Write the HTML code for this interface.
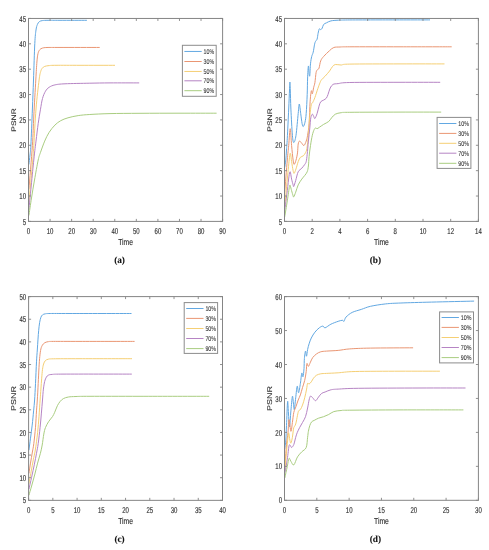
<!DOCTYPE html>
<html lang="en">
<head>
<meta charset="utf-8">
<title>PSNR versus Time</title>
<style>
html,body{margin:0;padding:0;background:#fff;}
body{width:489px;height:550px;overflow:hidden;}
svg{display:block;}
text{text-rendering:geometricPrecision;}
</style>
</head>
<body>
<svg width="489" height="550" viewBox="0 0 489 550">
<rect width="489" height="550" fill="#fff"/>
<g><path d="M28.90 164.50C29.08 162.92 29.67 158.25 30.00 155.00C30.33 151.75 30.50 152.67 30.90 145.00C31.30 137.33 31.97 119.83 32.40 109.00C32.83 98.17 33.10 90.92 33.50 80.00C33.90 69.08 34.38 51.83 34.80 43.50C35.22 35.17 35.57 33.17 36.00 30.00C36.43 26.83 36.85 25.88 37.40 24.50C37.95 23.12 38.48 22.35 39.30 21.70C40.12 21.05 40.85 20.83 42.30 20.60C43.75 20.37 45.05 20.35 48.00 20.30C50.95 20.25 53.52 20.30 60.00 20.30C66.48 20.30 82.42 20.30 86.90 20.30" fill="none" stroke="#62a8e2" stroke-width="1" stroke-linejoin="round" stroke-linecap="butt"/>
<path d="M28.90 189.30C29.48 182.00 31.58 157.72 32.40 145.50C33.22 133.28 33.23 126.92 33.80 116.00C34.37 105.08 35.28 89.00 35.80 80.00C36.32 71.00 36.53 66.40 36.90 62.00C37.27 57.60 37.53 55.63 38.00 53.60C38.47 51.57 38.97 50.72 39.70 49.80C40.43 48.88 41.18 48.48 42.40 48.10C43.62 47.72 44.07 47.61 47.00 47.50C49.93 47.39 51.22 47.46 60.00 47.45C68.78 47.44 93.08 47.45 99.70 47.45" fill="none" stroke="#ea9673" stroke-width="1" stroke-linejoin="round" stroke-linecap="butt"/>
<path d="M28.90 202.40C29.55 195.33 31.98 169.48 32.80 160.00C33.62 150.52 33.27 154.00 33.80 145.50C34.33 137.00 35.12 119.92 36.00 109.00C36.88 98.08 38.32 86.25 39.10 80.00C39.88 73.75 40.17 73.47 40.70 71.50C41.23 69.53 41.63 69.05 42.30 68.20C42.97 67.35 43.58 66.83 44.70 66.40C45.82 65.97 47.12 65.78 49.00 65.60C50.88 65.42 50.83 65.35 56.00 65.30C61.17 65.25 70.17 65.30 80.00 65.30C89.83 65.30 109.17 65.30 115.00 65.30" fill="none" stroke="#f5cf74" stroke-width="1" stroke-linejoin="round" stroke-linecap="butt"/>
<path d="M28.90 209.60C29.72 201.33 32.62 171.42 33.80 160.00C34.98 148.58 35.27 147.17 36.00 141.10C36.73 135.03 37.47 128.82 38.20 123.60C38.93 118.38 39.68 113.98 40.40 109.80C41.12 105.62 41.65 101.60 42.50 98.50C43.35 95.40 44.40 93.07 45.50 91.20C46.60 89.33 47.53 88.35 49.10 87.30C50.67 86.25 52.25 85.48 54.90 84.90C57.55 84.32 59.18 84.08 65.00 83.80C70.82 83.52 82.30 83.35 89.80 83.20C97.30 83.05 101.77 82.95 110.00 82.90C118.23 82.85 134.33 82.90 139.20 82.90" fill="none" stroke="#b684c4" stroke-width="1" stroke-linejoin="round" stroke-linecap="butt"/>
<path d="M28.90 215.50C29.33 212.58 30.57 203.92 31.50 198.00C32.43 192.08 33.38 186.33 34.50 180.00C35.62 173.67 37.22 164.55 38.20 160.00C39.18 155.45 39.32 155.85 40.40 152.70C41.48 149.55 43.25 144.48 44.70 141.10C46.15 137.72 47.40 135.07 49.10 132.40C50.80 129.73 52.97 127.05 54.90 125.10C56.83 123.15 58.52 121.92 60.70 120.70C62.88 119.48 65.08 118.65 68.00 117.80C70.92 116.95 74.57 116.15 78.20 115.60C81.83 115.05 84.50 114.83 89.80 114.50C95.10 114.17 101.63 113.80 110.00 113.60C118.37 113.40 128.33 113.37 140.00 113.30C151.67 113.23 167.23 113.22 180.00 113.20C192.77 113.18 210.50 113.20 216.60 113.20" fill="none" stroke="#a9cd80" stroke-width="1" stroke-linejoin="round" stroke-linecap="butt"/>
<rect x="28.50" y="18.45" width="194.10" height="202.95" fill="none" stroke="#858585" stroke-width="1"/>
<text transform="translate(28.50 233.60) scale(0.720 1)" font-family='"Liberation Sans", Arial, sans-serif' font-size="8.40" font-weight="normal" text-anchor="middle" fill="#303030" stroke="#303030" stroke-width="0.15">0</text>
<text transform="translate(50.07 233.60) scale(0.720 1)" font-family='"Liberation Sans", Arial, sans-serif' font-size="8.40" font-weight="normal" text-anchor="middle" fill="#303030" stroke="#303030" stroke-width="0.15">10</text>
<text transform="translate(71.63 233.60) scale(0.720 1)" font-family='"Liberation Sans", Arial, sans-serif' font-size="8.40" font-weight="normal" text-anchor="middle" fill="#303030" stroke="#303030" stroke-width="0.15">20</text>
<text transform="translate(93.20 233.60) scale(0.720 1)" font-family='"Liberation Sans", Arial, sans-serif' font-size="8.40" font-weight="normal" text-anchor="middle" fill="#303030" stroke="#303030" stroke-width="0.15">30</text>
<text transform="translate(114.77 233.60) scale(0.720 1)" font-family='"Liberation Sans", Arial, sans-serif' font-size="8.40" font-weight="normal" text-anchor="middle" fill="#303030" stroke="#303030" stroke-width="0.15">40</text>
<text transform="translate(136.33 233.60) scale(0.720 1)" font-family='"Liberation Sans", Arial, sans-serif' font-size="8.40" font-weight="normal" text-anchor="middle" fill="#303030" stroke="#303030" stroke-width="0.15">50</text>
<text transform="translate(157.90 233.60) scale(0.720 1)" font-family='"Liberation Sans", Arial, sans-serif' font-size="8.40" font-weight="normal" text-anchor="middle" fill="#303030" stroke="#303030" stroke-width="0.15">60</text>
<text transform="translate(179.47 233.60) scale(0.720 1)" font-family='"Liberation Sans", Arial, sans-serif' font-size="8.40" font-weight="normal" text-anchor="middle" fill="#303030" stroke="#303030" stroke-width="0.15">70</text>
<text transform="translate(201.03 233.60) scale(0.720 1)" font-family='"Liberation Sans", Arial, sans-serif' font-size="8.40" font-weight="normal" text-anchor="middle" fill="#303030" stroke="#303030" stroke-width="0.15">80</text>
<text transform="translate(222.60 233.60) scale(0.720 1)" font-family='"Liberation Sans", Arial, sans-serif' font-size="8.40" font-weight="normal" text-anchor="middle" fill="#303030" stroke="#303030" stroke-width="0.15">90</text>
<text transform="translate(26.00 224.50) scale(0.720 1)" font-family='"Liberation Sans", Arial, sans-serif' font-size="8.40" font-weight="normal" text-anchor="end" fill="#303030" stroke="#303030" stroke-width="0.15">5</text>
<text transform="translate(26.00 199.13) scale(0.720 1)" font-family='"Liberation Sans", Arial, sans-serif' font-size="8.40" font-weight="normal" text-anchor="end" fill="#303030" stroke="#303030" stroke-width="0.15">10</text>
<text transform="translate(26.00 173.76) scale(0.720 1)" font-family='"Liberation Sans", Arial, sans-serif' font-size="8.40" font-weight="normal" text-anchor="end" fill="#303030" stroke="#303030" stroke-width="0.15">15</text>
<text transform="translate(26.00 148.39) scale(0.720 1)" font-family='"Liberation Sans", Arial, sans-serif' font-size="8.40" font-weight="normal" text-anchor="end" fill="#303030" stroke="#303030" stroke-width="0.15">20</text>
<text transform="translate(26.00 123.02) scale(0.720 1)" font-family='"Liberation Sans", Arial, sans-serif' font-size="8.40" font-weight="normal" text-anchor="end" fill="#303030" stroke="#303030" stroke-width="0.15">25</text>
<text transform="translate(26.00 97.66) scale(0.720 1)" font-family='"Liberation Sans", Arial, sans-serif' font-size="8.40" font-weight="normal" text-anchor="end" fill="#303030" stroke="#303030" stroke-width="0.15">30</text>
<text transform="translate(26.00 72.29) scale(0.720 1)" font-family='"Liberation Sans", Arial, sans-serif' font-size="8.40" font-weight="normal" text-anchor="end" fill="#303030" stroke="#303030" stroke-width="0.15">35</text>
<text transform="translate(26.00 46.92) scale(0.720 1)" font-family='"Liberation Sans", Arial, sans-serif' font-size="8.40" font-weight="normal" text-anchor="end" fill="#303030" stroke="#303030" stroke-width="0.15">40</text>
<text transform="translate(26.00 21.55) scale(0.720 1)" font-family='"Liberation Sans", Arial, sans-serif' font-size="8.40" font-weight="normal" text-anchor="end" fill="#303030" stroke="#303030" stroke-width="0.15">45</text>
<path d="M28.50 221.40v-2.50M28.50 18.45v2.50M50.07 221.40v-2.50M50.07 18.45v2.50M71.63 221.40v-2.50M71.63 18.45v2.50M93.20 221.40v-2.50M93.20 18.45v2.50M114.77 221.40v-2.50M114.77 18.45v2.50M136.33 221.40v-2.50M136.33 18.45v2.50M157.90 221.40v-2.50M157.90 18.45v2.50M179.47 221.40v-2.50M179.47 18.45v2.50M201.03 221.40v-2.50M201.03 18.45v2.50M222.60 221.40v-2.50M222.60 18.45v2.50M28.50 221.40h2.50M222.60 221.40h-2.50M28.50 196.03h2.50M222.60 196.03h-2.50M28.50 170.66h2.50M222.60 170.66h-2.50M28.50 145.29h2.50M222.60 145.29h-2.50M28.50 119.92h2.50M222.60 119.92h-2.50M28.50 94.56h2.50M222.60 94.56h-2.50M28.50 69.19h2.50M222.60 69.19h-2.50M28.50 43.82h2.50M222.60 43.82h-2.50M28.50 18.45h2.50M222.60 18.45h-2.50" stroke="#858585" stroke-width="0.9" fill="none"/>
<text transform="translate(125.55 244.80) scale(0.770 1)" font-family='"Liberation Sans", Arial, sans-serif' font-size="8.80" font-weight="normal" text-anchor="middle" fill="#303030" stroke="#303030" stroke-width="0.15">Time</text>
<text transform="translate(16.30 119.92) scale(0.770 1) rotate(-90)" font-family='"Liberation Sans", Arial, sans-serif' font-size="8.50" font-weight="normal" text-anchor="middle" fill="#303030" stroke="#303030" stroke-width="0.15">PSNR</text>
<text transform="translate(119.55 263.40) scale(1.000 1)" font-family='"Liberation Serif", "Times New Roman", serif' font-size="9.30" font-weight="bold" text-anchor="middle" fill="#111" stroke="#111" stroke-width="0.10">(a)</text>
<rect x="182.40" y="45.30" width="33.80" height="51.00" fill="#fff" stroke="#8c8c8c" stroke-width="1"/>
<path d="M184.40 51.45H201.70" stroke="#62a8e2" stroke-width="1"/>
<text transform="translate(203.60 53.90) scale(0.770 1)" font-family='"Liberation Sans", Arial, sans-serif' font-size="6.90" font-weight="normal" text-anchor="start" fill="#303030" stroke="#303030" stroke-width="0.08">10%</text>
<path d="M184.40 61.50H201.70" stroke="#ea9673" stroke-width="1"/>
<text transform="translate(203.60 63.95) scale(0.770 1)" font-family='"Liberation Sans", Arial, sans-serif' font-size="6.90" font-weight="normal" text-anchor="start" fill="#303030" stroke="#303030" stroke-width="0.08">30%</text>
<path d="M184.40 71.45H201.70" stroke="#f5cf74" stroke-width="1"/>
<text transform="translate(203.60 73.90) scale(0.770 1)" font-family='"Liberation Sans", Arial, sans-serif' font-size="6.90" font-weight="normal" text-anchor="start" fill="#303030" stroke="#303030" stroke-width="0.08">50%</text>
<path d="M184.40 80.80H201.70" stroke="#b684c4" stroke-width="1"/>
<text transform="translate(203.60 83.25) scale(0.770 1)" font-family='"Liberation Sans", Arial, sans-serif' font-size="6.90" font-weight="normal" text-anchor="start" fill="#303030" stroke="#303030" stroke-width="0.08">70%</text>
<path d="M184.40 90.70H201.70" stroke="#a9cd80" stroke-width="1"/>
<text transform="translate(203.60 93.15) scale(0.770 1)" font-family='"Liberation Sans", Arial, sans-serif' font-size="6.90" font-weight="normal" text-anchor="start" fill="#303030" stroke="#303030" stroke-width="0.08">90%</text></g>
<g><path d="M284.70 167.50C284.88 166.25 285.50 162.92 285.80 160.00C286.10 157.08 286.25 153.63 286.50 150.00C286.75 146.37 286.93 145.03 287.30 138.20C287.67 131.37 288.33 117.03 288.70 109.00C289.07 100.97 289.30 94.50 289.50 90.00C289.70 85.50 289.77 82.00 289.90 82.00C290.03 82.00 290.13 85.48 290.30 90.00C290.47 94.52 290.55 101.55 290.90 109.10C291.25 116.65 291.92 129.73 292.40 135.30C292.88 140.87 293.20 142.50 293.80 142.50C294.40 142.50 295.27 140.13 296.00 135.30C296.73 130.47 297.65 118.72 298.20 113.50C298.75 108.28 298.88 104.00 299.30 104.00C299.72 104.00 300.23 110.23 300.70 113.50C301.17 116.77 301.67 121.43 302.10 123.60C302.53 125.77 302.82 126.73 303.30 126.50C303.78 126.27 304.52 124.37 305.00 122.20C305.48 120.03 305.83 118.12 306.20 113.50C306.57 108.88 306.97 100.42 307.20 94.50C307.43 88.58 307.40 82.75 307.60 78.00C307.80 73.25 308.15 66.67 308.40 66.00C308.65 65.33 308.87 72.42 309.10 74.00C309.33 75.58 309.57 77.20 309.80 75.50C310.03 73.80 310.18 66.97 310.50 63.80C310.82 60.63 311.25 58.43 311.70 56.50C312.15 54.57 312.72 54.25 313.20 52.20C313.68 50.15 314.20 46.02 314.60 44.20C315.00 42.38 315.18 42.15 315.60 41.30C316.02 40.45 316.68 40.43 317.10 39.10C317.52 37.77 317.73 35.00 318.10 33.30C318.47 31.60 318.87 29.52 319.30 28.90C319.73 28.28 320.22 29.72 320.70 29.60C321.18 29.48 321.72 29.05 322.20 28.20C322.68 27.35 322.88 25.40 323.60 24.50C324.32 23.60 325.28 23.40 326.50 22.80C327.72 22.20 328.95 21.33 330.90 20.90C332.85 20.47 335.05 20.36 338.20 20.20C341.35 20.04 342.83 20.00 349.80 19.95C356.77 19.90 366.63 19.91 380.00 19.90C393.37 19.89 421.67 19.90 430.00 19.90" fill="none" stroke="#62a8e2" stroke-width="1" stroke-linejoin="round" stroke-linecap="butt"/>
<path d="M284.70 192.20C285.13 186.83 286.63 167.78 287.30 160.00C287.97 152.22 288.22 150.72 288.70 145.50C289.18 140.28 289.72 128.70 290.20 128.70C290.68 128.70 291.12 140.28 291.60 145.50C292.08 150.72 292.68 156.83 293.10 160.00C293.52 163.17 293.62 164.47 294.10 164.50C294.58 164.53 295.43 162.13 296.00 160.20C296.57 158.27 297.13 155.60 297.50 152.90C297.87 150.20 297.85 145.97 298.20 144.00C298.55 142.03 299.00 141.22 299.60 141.10C300.20 140.98 301.07 142.57 301.80 143.30C302.53 144.03 303.27 145.87 304.00 145.50C304.73 145.13 305.60 142.80 306.20 141.10C306.80 139.40 307.12 138.22 307.60 135.30C308.08 132.38 308.68 129.18 309.10 123.60C309.52 118.02 309.73 107.25 310.10 101.80C310.47 96.35 310.93 92.23 311.30 90.90C311.67 89.57 311.90 94.40 312.30 93.80C312.70 93.20 313.27 89.15 313.70 87.30C314.13 85.45 314.50 85.17 314.90 82.70C315.30 80.23 315.67 74.68 316.10 72.50C316.53 70.32 317.02 70.32 317.50 69.60C317.98 68.88 318.47 69.65 319.00 68.20C319.53 66.75 319.93 62.85 320.70 60.90C321.47 58.95 322.13 58.20 323.60 56.50C325.07 54.80 327.80 52.20 329.50 50.70C331.20 49.20 332.05 48.12 333.80 47.50C335.55 46.88 337.33 47.12 340.00 47.00C342.67 46.88 339.80 46.83 349.80 46.80C359.80 46.77 383.02 46.80 400.00 46.80C416.98 46.80 443.08 46.80 451.70 46.80" fill="none" stroke="#ea9673" stroke-width="1" stroke-linejoin="round" stroke-linecap="butt"/>
<path d="M284.70 206.70C285.13 202.08 286.50 187.23 287.30 179.00C288.10 170.77 288.97 161.53 289.50 157.30C290.03 153.07 290.15 152.88 290.50 153.60C290.85 154.32 291.17 158.80 291.60 161.60C292.03 164.40 292.68 168.45 293.10 170.40C293.52 172.35 293.62 173.55 294.10 173.30C294.58 173.05 295.32 170.85 296.00 168.90C296.68 166.95 297.47 163.53 298.20 161.60C298.93 159.67 299.55 158.27 300.40 157.30C301.25 156.33 302.45 156.57 303.30 155.80C304.15 155.03 304.90 153.93 305.50 152.70C306.10 151.47 306.42 151.30 306.90 148.40C307.38 145.50 307.92 140.63 308.40 135.30C308.88 129.97 309.32 121.50 309.80 116.40C310.28 111.30 310.82 107.02 311.30 104.70C311.78 102.38 312.10 103.70 312.70 102.50C313.30 101.30 314.05 99.80 314.90 97.50C315.75 95.20 316.95 91.17 317.80 88.70C318.65 86.23 319.38 84.18 320.00 82.70C320.62 81.22 320.65 80.88 321.50 79.80C322.35 78.72 323.77 77.65 325.10 76.20C326.43 74.75 328.28 72.68 329.50 71.10C330.72 69.52 331.43 67.80 332.40 66.70C333.37 65.60 333.85 64.78 335.30 64.50C336.75 64.22 338.68 65.07 341.10 65.00C343.52 64.93 339.98 64.28 349.80 64.10C359.62 63.92 384.22 63.93 400.00 63.90C415.78 63.87 437.08 63.90 444.50 63.90" fill="none" stroke="#f5cf74" stroke-width="1" stroke-linejoin="round" stroke-linecap="butt"/>
<path d="M284.70 211.10C285.13 207.70 286.58 196.52 287.30 190.70C288.02 184.88 288.52 179.35 289.00 176.20C289.48 173.05 289.77 171.32 290.20 171.80C290.63 172.28 291.12 176.92 291.60 179.10C292.08 181.28 292.73 183.68 293.10 184.90C293.47 186.12 293.37 187.13 293.80 186.40C294.23 185.67 294.97 182.93 295.70 180.50C296.43 178.07 297.18 173.85 298.20 171.80C299.22 169.75 300.72 169.42 301.80 168.20C302.88 166.98 303.97 165.60 304.70 164.50C305.43 163.40 305.78 163.28 306.20 161.60C306.62 159.92 306.83 157.82 307.20 154.40C307.57 150.98 307.97 145.50 308.40 141.10C308.83 136.70 309.40 131.88 309.80 128.00C310.20 124.12 310.38 120.10 310.80 117.80C311.22 115.50 311.82 114.43 312.30 114.20C312.78 113.97 313.27 115.68 313.70 116.40C314.13 117.12 314.33 118.98 314.90 118.50C315.47 118.02 316.42 115.55 317.10 113.50C317.78 111.45 318.40 108.15 319.00 106.20C319.60 104.25 319.93 102.82 320.70 101.80C321.47 100.78 322.67 100.70 323.60 100.10C324.53 99.50 325.57 99.13 326.30 98.20C327.03 97.27 327.35 96.20 328.00 94.50C328.65 92.80 329.35 89.68 330.20 88.00C331.05 86.32 331.77 85.13 333.10 84.40C334.43 83.67 335.42 83.92 338.20 83.60C340.98 83.28 339.50 82.72 349.80 82.50C360.10 82.28 384.93 82.33 400.00 82.30C415.07 82.27 433.50 82.30 440.20 82.30" fill="none" stroke="#b684c4" stroke-width="1" stroke-linejoin="round" stroke-linecap="butt"/>
<path d="M284.70 216.90C285.13 214.23 286.50 205.98 287.30 200.90C288.10 195.82 289.00 188.88 289.50 186.40C290.00 183.92 289.95 185.28 290.30 186.00C290.65 186.72 291.13 189.07 291.60 190.70C292.07 192.33 292.73 194.78 293.10 195.80C293.47 196.82 293.37 197.40 293.80 196.80C294.23 196.20 294.97 194.18 295.70 192.20C296.43 190.22 297.18 187.08 298.20 184.90C299.22 182.72 300.72 180.67 301.80 179.10C302.88 177.53 303.80 176.72 304.70 175.50C305.60 174.28 306.58 173.38 307.20 171.80C307.82 170.22 308.08 168.55 308.40 166.00C308.72 163.45 308.75 159.92 309.10 156.50C309.45 153.08 309.97 149.03 310.50 145.50C311.03 141.97 311.68 137.97 312.30 135.30C312.92 132.63 313.65 130.72 314.20 129.50C314.75 128.28 315.12 128.13 315.60 128.00C316.08 127.87 316.48 128.82 317.10 128.70C317.72 128.58 318.22 128.02 319.30 127.30C320.38 126.58 322.03 125.37 323.60 124.40C325.17 123.43 327.37 122.60 328.70 121.50C330.03 120.40 330.50 119.02 331.60 117.80C332.70 116.58 333.72 115.05 335.30 114.20C336.88 113.35 338.68 113.02 341.10 112.70C343.52 112.38 339.98 112.40 349.80 112.30C359.62 112.20 384.77 112.13 400.00 112.10C415.23 112.07 434.33 112.10 441.20 112.10" fill="none" stroke="#a9cd80" stroke-width="1" stroke-linejoin="round" stroke-linecap="butt"/>
<rect x="284.50" y="18.45" width="193.90" height="202.95" fill="none" stroke="#858585" stroke-width="1"/>
<text transform="translate(284.50 233.60) scale(0.720 1)" font-family='"Liberation Sans", Arial, sans-serif' font-size="8.40" font-weight="normal" text-anchor="middle" fill="#303030" stroke="#303030" stroke-width="0.15">0</text>
<text transform="translate(312.20 233.60) scale(0.720 1)" font-family='"Liberation Sans", Arial, sans-serif' font-size="8.40" font-weight="normal" text-anchor="middle" fill="#303030" stroke="#303030" stroke-width="0.15">2</text>
<text transform="translate(339.90 233.60) scale(0.720 1)" font-family='"Liberation Sans", Arial, sans-serif' font-size="8.40" font-weight="normal" text-anchor="middle" fill="#303030" stroke="#303030" stroke-width="0.15">4</text>
<text transform="translate(367.60 233.60) scale(0.720 1)" font-family='"Liberation Sans", Arial, sans-serif' font-size="8.40" font-weight="normal" text-anchor="middle" fill="#303030" stroke="#303030" stroke-width="0.15">6</text>
<text transform="translate(395.30 233.60) scale(0.720 1)" font-family='"Liberation Sans", Arial, sans-serif' font-size="8.40" font-weight="normal" text-anchor="middle" fill="#303030" stroke="#303030" stroke-width="0.15">8</text>
<text transform="translate(423.00 233.60) scale(0.720 1)" font-family='"Liberation Sans", Arial, sans-serif' font-size="8.40" font-weight="normal" text-anchor="middle" fill="#303030" stroke="#303030" stroke-width="0.15">10</text>
<text transform="translate(450.70 233.60) scale(0.720 1)" font-family='"Liberation Sans", Arial, sans-serif' font-size="8.40" font-weight="normal" text-anchor="middle" fill="#303030" stroke="#303030" stroke-width="0.15">12</text>
<text transform="translate(478.40 233.60) scale(0.720 1)" font-family='"Liberation Sans", Arial, sans-serif' font-size="8.40" font-weight="normal" text-anchor="middle" fill="#303030" stroke="#303030" stroke-width="0.15">14</text>
<text transform="translate(282.00 224.50) scale(0.720 1)" font-family='"Liberation Sans", Arial, sans-serif' font-size="8.40" font-weight="normal" text-anchor="end" fill="#303030" stroke="#303030" stroke-width="0.15">5</text>
<text transform="translate(282.00 199.13) scale(0.720 1)" font-family='"Liberation Sans", Arial, sans-serif' font-size="8.40" font-weight="normal" text-anchor="end" fill="#303030" stroke="#303030" stroke-width="0.15">10</text>
<text transform="translate(282.00 173.76) scale(0.720 1)" font-family='"Liberation Sans", Arial, sans-serif' font-size="8.40" font-weight="normal" text-anchor="end" fill="#303030" stroke="#303030" stroke-width="0.15">15</text>
<text transform="translate(282.00 148.39) scale(0.720 1)" font-family='"Liberation Sans", Arial, sans-serif' font-size="8.40" font-weight="normal" text-anchor="end" fill="#303030" stroke="#303030" stroke-width="0.15">20</text>
<text transform="translate(282.00 123.02) scale(0.720 1)" font-family='"Liberation Sans", Arial, sans-serif' font-size="8.40" font-weight="normal" text-anchor="end" fill="#303030" stroke="#303030" stroke-width="0.15">25</text>
<text transform="translate(282.00 97.66) scale(0.720 1)" font-family='"Liberation Sans", Arial, sans-serif' font-size="8.40" font-weight="normal" text-anchor="end" fill="#303030" stroke="#303030" stroke-width="0.15">30</text>
<text transform="translate(282.00 72.29) scale(0.720 1)" font-family='"Liberation Sans", Arial, sans-serif' font-size="8.40" font-weight="normal" text-anchor="end" fill="#303030" stroke="#303030" stroke-width="0.15">35</text>
<text transform="translate(282.00 46.92) scale(0.720 1)" font-family='"Liberation Sans", Arial, sans-serif' font-size="8.40" font-weight="normal" text-anchor="end" fill="#303030" stroke="#303030" stroke-width="0.15">40</text>
<text transform="translate(282.00 21.55) scale(0.720 1)" font-family='"Liberation Sans", Arial, sans-serif' font-size="8.40" font-weight="normal" text-anchor="end" fill="#303030" stroke="#303030" stroke-width="0.15">45</text>
<path d="M284.50 221.40v-2.50M284.50 18.45v2.50M312.20 221.40v-2.50M312.20 18.45v2.50M339.90 221.40v-2.50M339.90 18.45v2.50M367.60 221.40v-2.50M367.60 18.45v2.50M395.30 221.40v-2.50M395.30 18.45v2.50M423.00 221.40v-2.50M423.00 18.45v2.50M450.70 221.40v-2.50M450.70 18.45v2.50M478.40 221.40v-2.50M478.40 18.45v2.50M284.50 221.40h2.50M478.40 221.40h-2.50M284.50 196.03h2.50M478.40 196.03h-2.50M284.50 170.66h2.50M478.40 170.66h-2.50M284.50 145.29h2.50M478.40 145.29h-2.50M284.50 119.92h2.50M478.40 119.92h-2.50M284.50 94.56h2.50M478.40 94.56h-2.50M284.50 69.19h2.50M478.40 69.19h-2.50M284.50 43.82h2.50M478.40 43.82h-2.50M284.50 18.45h2.50M478.40 18.45h-2.50" stroke="#858585" stroke-width="0.9" fill="none"/>
<text transform="translate(381.45 244.80) scale(0.770 1)" font-family='"Liberation Sans", Arial, sans-serif' font-size="8.80" font-weight="normal" text-anchor="middle" fill="#303030" stroke="#303030" stroke-width="0.15">Time</text>
<text transform="translate(272.30 119.92) scale(0.770 1) rotate(-90)" font-family='"Liberation Sans", Arial, sans-serif' font-size="8.50" font-weight="normal" text-anchor="middle" fill="#303030" stroke="#303030" stroke-width="0.15">PSNR</text>
<text transform="translate(375.45 263.40) scale(1.000 1)" font-family='"Liberation Serif", "Times New Roman", serif' font-size="9.30" font-weight="bold" text-anchor="middle" fill="#111" stroke="#111" stroke-width="0.10">(b)</text>
<rect x="437.10" y="117.40" width="33.80" height="51.00" fill="#fff" stroke="#8c8c8c" stroke-width="1"/>
<path d="M439.10 123.50H456.40" stroke="#62a8e2" stroke-width="1"/>
<text transform="translate(458.30 125.95) scale(0.770 1)" font-family='"Liberation Sans", Arial, sans-serif' font-size="6.90" font-weight="normal" text-anchor="start" fill="#303030" stroke="#303030" stroke-width="0.08">10%</text>
<path d="M439.10 133.40H456.40" stroke="#ea9673" stroke-width="1"/>
<text transform="translate(458.30 135.85) scale(0.770 1)" font-family='"Liberation Sans", Arial, sans-serif' font-size="6.90" font-weight="normal" text-anchor="start" fill="#303030" stroke="#303030" stroke-width="0.08">30%</text>
<path d="M439.10 143.30H456.40" stroke="#f5cf74" stroke-width="1"/>
<text transform="translate(458.30 145.75) scale(0.770 1)" font-family='"Liberation Sans", Arial, sans-serif' font-size="6.90" font-weight="normal" text-anchor="start" fill="#303030" stroke="#303030" stroke-width="0.08">50%</text>
<path d="M439.10 153.20H456.40" stroke="#b684c4" stroke-width="1"/>
<text transform="translate(458.30 155.65) scale(0.770 1)" font-family='"Liberation Sans", Arial, sans-serif' font-size="6.90" font-weight="normal" text-anchor="start" fill="#303030" stroke="#303030" stroke-width="0.08">70%</text>
<path d="M439.10 163.30H456.40" stroke="#a9cd80" stroke-width="1"/>
<text transform="translate(458.30 165.75) scale(0.770 1)" font-family='"Liberation Sans", Arial, sans-serif' font-size="6.90" font-weight="normal" text-anchor="start" fill="#303030" stroke="#303030" stroke-width="0.08">90%</text></g>
<g><path d="M28.90 450.20C29.17 448.20 29.95 442.38 30.50 438.20C31.05 434.02 31.68 429.65 32.20 425.10C32.72 420.55 33.20 415.08 33.60 410.90C34.00 406.72 34.28 404.55 34.60 400.00C34.92 395.45 35.18 389.97 35.50 383.60C35.82 377.23 36.20 367.40 36.50 361.80C36.80 356.20 37.05 353.78 37.30 350.00C37.55 346.22 37.77 342.38 38.00 339.10C38.23 335.82 38.43 333.03 38.70 330.30C38.97 327.57 39.23 324.87 39.60 322.70C39.97 320.53 40.42 318.60 40.90 317.30C41.38 316.00 41.77 315.48 42.50 314.90C43.23 314.32 44.02 314.03 45.30 313.80C46.58 313.57 46.08 313.55 50.20 313.50C54.32 313.45 56.45 313.50 70.00 313.50C83.55 313.50 121.25 313.50 131.50 313.50" fill="none" stroke="#62a8e2" stroke-width="1" stroke-linejoin="round" stroke-linecap="butt"/>
<path d="M28.90 473.40C29.17 471.68 29.92 466.67 30.50 463.10C31.08 459.53 31.85 455.25 32.40 452.00C32.95 448.75 33.28 447.72 33.80 443.60C34.32 439.48 35.05 432.75 35.50 427.30C35.95 421.85 36.20 415.45 36.50 410.90C36.80 406.35 37.02 404.55 37.30 400.00C37.58 395.45 37.92 389.05 38.20 383.60C38.48 378.15 38.73 371.83 39.00 367.30C39.27 362.77 39.48 359.47 39.80 356.40C40.12 353.33 40.45 350.80 40.90 348.90C41.35 347.00 41.87 346.02 42.50 345.00C43.13 343.98 43.78 343.35 44.70 342.80C45.62 342.25 46.55 341.93 48.00 341.70C49.45 341.47 48.07 341.45 53.40 341.40C58.73 341.35 66.47 341.40 80.00 341.40C93.53 341.40 125.50 341.40 134.60 341.40" fill="none" stroke="#ea9673" stroke-width="1" stroke-linejoin="round" stroke-linecap="butt"/>
<path d="M28.90 483.80C29.27 481.80 30.37 475.80 31.10 471.80C31.83 467.80 32.60 463.43 33.30 459.80C34.00 456.17 34.58 454.52 35.30 450.00C36.02 445.48 36.98 438.30 37.60 432.70C38.22 427.10 38.58 421.85 39.00 416.40C39.42 410.95 39.78 404.55 40.10 400.00C40.42 395.45 40.63 392.73 40.90 389.10C41.17 385.47 41.43 381.48 41.70 378.20C41.97 374.92 42.18 371.77 42.50 369.40C42.82 367.03 43.13 365.45 43.60 364.00C44.07 362.55 44.57 361.48 45.30 360.70C46.03 359.92 46.65 359.62 48.00 359.30C49.35 358.98 48.07 358.90 53.40 358.80C58.73 358.70 66.90 358.72 80.00 358.70C93.10 358.68 123.33 358.70 132.00 358.70" fill="none" stroke="#f5cf74" stroke-width="1" stroke-linejoin="round" stroke-linecap="butt"/>
<path d="M28.90 489.30C29.35 487.30 30.68 481.48 31.60 477.30C32.52 473.12 33.58 468.20 34.40 464.20C35.22 460.20 35.87 456.73 36.50 453.30C37.13 449.87 37.60 447.93 38.20 443.60C38.80 439.27 39.57 432.38 40.10 427.30C40.63 422.22 41.00 417.65 41.40 413.10C41.80 408.55 42.17 404.00 42.50 400.00C42.83 396.00 43.03 392.20 43.40 389.10C43.77 386.00 44.20 383.40 44.70 381.40C45.20 379.40 45.77 378.15 46.40 377.10C47.03 376.05 47.50 375.55 48.50 375.10C49.50 374.65 49.82 374.57 52.40 374.40C54.98 374.23 50.77 374.15 64.00 374.10C77.23 374.05 120.50 374.10 131.80 374.10" fill="none" stroke="#b684c4" stroke-width="1" stroke-linejoin="round" stroke-linecap="butt"/>
<path d="M28.90 495.30C29.35 493.75 30.60 489.55 31.60 486.00C32.60 482.45 33.90 477.82 34.90 474.00C35.90 470.18 36.68 466.55 37.60 463.10C38.52 459.65 39.63 456.32 40.40 453.30C41.17 450.28 41.63 448.20 42.20 445.00C42.77 441.80 43.25 437.02 43.80 434.10C44.35 431.18 44.68 429.60 45.50 427.50C46.32 425.40 47.53 423.32 48.70 421.50C49.87 419.68 51.50 418.13 52.50 416.60C53.50 415.07 53.88 414.12 54.70 412.30C55.52 410.48 56.48 407.52 57.40 405.70C58.32 403.88 59.20 402.58 60.20 401.40C61.20 400.22 62.03 399.33 63.40 398.60C64.77 397.87 66.30 397.35 68.40 397.00C70.50 396.65 72.40 396.62 76.00 396.50C79.60 396.38 79.33 396.33 90.00 396.30C100.67 396.27 120.13 396.30 140.00 396.30C159.87 396.30 197.67 396.30 209.20 396.30" fill="none" stroke="#a9cd80" stroke-width="1" stroke-linejoin="round" stroke-linecap="butt"/>
<rect x="28.60" y="296.60" width="193.90" height="203.75" fill="none" stroke="#858585" stroke-width="1"/>
<text transform="translate(28.60 512.55) scale(0.720 1)" font-family='"Liberation Sans", Arial, sans-serif' font-size="8.40" font-weight="normal" text-anchor="middle" fill="#303030" stroke="#303030" stroke-width="0.15">0</text>
<text transform="translate(52.84 512.55) scale(0.720 1)" font-family='"Liberation Sans", Arial, sans-serif' font-size="8.40" font-weight="normal" text-anchor="middle" fill="#303030" stroke="#303030" stroke-width="0.15">5</text>
<text transform="translate(77.08 512.55) scale(0.720 1)" font-family='"Liberation Sans", Arial, sans-serif' font-size="8.40" font-weight="normal" text-anchor="middle" fill="#303030" stroke="#303030" stroke-width="0.15">10</text>
<text transform="translate(101.31 512.55) scale(0.720 1)" font-family='"Liberation Sans", Arial, sans-serif' font-size="8.40" font-weight="normal" text-anchor="middle" fill="#303030" stroke="#303030" stroke-width="0.15">15</text>
<text transform="translate(125.55 512.55) scale(0.720 1)" font-family='"Liberation Sans", Arial, sans-serif' font-size="8.40" font-weight="normal" text-anchor="middle" fill="#303030" stroke="#303030" stroke-width="0.15">20</text>
<text transform="translate(149.79 512.55) scale(0.720 1)" font-family='"Liberation Sans", Arial, sans-serif' font-size="8.40" font-weight="normal" text-anchor="middle" fill="#303030" stroke="#303030" stroke-width="0.15">25</text>
<text transform="translate(174.03 512.55) scale(0.720 1)" font-family='"Liberation Sans", Arial, sans-serif' font-size="8.40" font-weight="normal" text-anchor="middle" fill="#303030" stroke="#303030" stroke-width="0.15">30</text>
<text transform="translate(198.26 512.55) scale(0.720 1)" font-family='"Liberation Sans", Arial, sans-serif' font-size="8.40" font-weight="normal" text-anchor="middle" fill="#303030" stroke="#303030" stroke-width="0.15">35</text>
<text transform="translate(222.50 512.55) scale(0.720 1)" font-family='"Liberation Sans", Arial, sans-serif' font-size="8.40" font-weight="normal" text-anchor="middle" fill="#303030" stroke="#303030" stroke-width="0.15">40</text>
<text transform="translate(26.10 503.45) scale(0.720 1)" font-family='"Liberation Sans", Arial, sans-serif' font-size="8.40" font-weight="normal" text-anchor="end" fill="#303030" stroke="#303030" stroke-width="0.15">5</text>
<text transform="translate(26.10 480.81) scale(0.720 1)" font-family='"Liberation Sans", Arial, sans-serif' font-size="8.40" font-weight="normal" text-anchor="end" fill="#303030" stroke="#303030" stroke-width="0.15">10</text>
<text transform="translate(26.10 458.17) scale(0.720 1)" font-family='"Liberation Sans", Arial, sans-serif' font-size="8.40" font-weight="normal" text-anchor="end" fill="#303030" stroke="#303030" stroke-width="0.15">15</text>
<text transform="translate(26.10 435.53) scale(0.720 1)" font-family='"Liberation Sans", Arial, sans-serif' font-size="8.40" font-weight="normal" text-anchor="end" fill="#303030" stroke="#303030" stroke-width="0.15">20</text>
<text transform="translate(26.10 412.89) scale(0.720 1)" font-family='"Liberation Sans", Arial, sans-serif' font-size="8.40" font-weight="normal" text-anchor="end" fill="#303030" stroke="#303030" stroke-width="0.15">25</text>
<text transform="translate(26.10 390.26) scale(0.720 1)" font-family='"Liberation Sans", Arial, sans-serif' font-size="8.40" font-weight="normal" text-anchor="end" fill="#303030" stroke="#303030" stroke-width="0.15">30</text>
<text transform="translate(26.10 367.62) scale(0.720 1)" font-family='"Liberation Sans", Arial, sans-serif' font-size="8.40" font-weight="normal" text-anchor="end" fill="#303030" stroke="#303030" stroke-width="0.15">35</text>
<text transform="translate(26.10 344.98) scale(0.720 1)" font-family='"Liberation Sans", Arial, sans-serif' font-size="8.40" font-weight="normal" text-anchor="end" fill="#303030" stroke="#303030" stroke-width="0.15">40</text>
<text transform="translate(26.10 322.34) scale(0.720 1)" font-family='"Liberation Sans", Arial, sans-serif' font-size="8.40" font-weight="normal" text-anchor="end" fill="#303030" stroke="#303030" stroke-width="0.15">45</text>
<text transform="translate(26.10 299.70) scale(0.720 1)" font-family='"Liberation Sans", Arial, sans-serif' font-size="8.40" font-weight="normal" text-anchor="end" fill="#303030" stroke="#303030" stroke-width="0.15">50</text>
<path d="M28.60 500.35v-2.50M28.60 296.60v2.50M52.84 500.35v-2.50M52.84 296.60v2.50M77.08 500.35v-2.50M77.08 296.60v2.50M101.31 500.35v-2.50M101.31 296.60v2.50M125.55 500.35v-2.50M125.55 296.60v2.50M149.79 500.35v-2.50M149.79 296.60v2.50M174.03 500.35v-2.50M174.03 296.60v2.50M198.26 500.35v-2.50M198.26 296.60v2.50M222.50 500.35v-2.50M222.50 296.60v2.50M28.60 500.35h2.50M222.50 500.35h-2.50M28.60 477.71h2.50M222.50 477.71h-2.50M28.60 455.07h2.50M222.50 455.07h-2.50M28.60 432.43h2.50M222.50 432.43h-2.50M28.60 409.79h2.50M222.50 409.79h-2.50M28.60 387.16h2.50M222.50 387.16h-2.50M28.60 364.52h2.50M222.50 364.52h-2.50M28.60 341.88h2.50M222.50 341.88h-2.50M28.60 319.24h2.50M222.50 319.24h-2.50M28.60 296.60h2.50M222.50 296.60h-2.50" stroke="#858585" stroke-width="0.9" fill="none"/>
<text transform="translate(125.55 523.75) scale(0.770 1)" font-family='"Liberation Sans", Arial, sans-serif' font-size="8.80" font-weight="normal" text-anchor="middle" fill="#303030" stroke="#303030" stroke-width="0.15">Time</text>
<text transform="translate(16.40 398.48) scale(0.770 1) rotate(-90)" font-family='"Liberation Sans", Arial, sans-serif' font-size="9.00" font-weight="normal" text-anchor="middle" fill="#303030" stroke="#303030" stroke-width="0.15">PSNR</text>
<text transform="translate(119.55 542.35) scale(1.000 1)" font-family='"Liberation Serif", "Times New Roman", serif' font-size="9.30" font-weight="bold" text-anchor="middle" fill="#111" stroke="#111" stroke-width="0.10">(c)</text>
<rect x="184.20" y="302.60" width="33.40" height="50.80" fill="#fff" stroke="#8c8c8c" stroke-width="1"/>
<path d="M186.20 308.50H203.50" stroke="#62a8e2" stroke-width="1"/>
<text transform="translate(205.40 310.95) scale(0.770 1)" font-family='"Liberation Sans", Arial, sans-serif' font-size="6.90" font-weight="normal" text-anchor="start" fill="#303030" stroke="#303030" stroke-width="0.08">10%</text>
<path d="M186.20 318.40H203.50" stroke="#ea9673" stroke-width="1"/>
<text transform="translate(205.40 320.85) scale(0.770 1)" font-family='"Liberation Sans", Arial, sans-serif' font-size="6.90" font-weight="normal" text-anchor="start" fill="#303030" stroke="#303030" stroke-width="0.08">30%</text>
<path d="M186.20 328.50H203.50" stroke="#f5cf74" stroke-width="1"/>
<text transform="translate(205.40 330.95) scale(0.770 1)" font-family='"Liberation Sans", Arial, sans-serif' font-size="6.90" font-weight="normal" text-anchor="start" fill="#303030" stroke="#303030" stroke-width="0.08">50%</text>
<path d="M186.20 338.50H203.50" stroke="#b684c4" stroke-width="1"/>
<text transform="translate(205.40 340.95) scale(0.770 1)" font-family='"Liberation Sans", Arial, sans-serif' font-size="6.90" font-weight="normal" text-anchor="start" fill="#303030" stroke="#303030" stroke-width="0.08">70%</text>
<path d="M186.20 348.60H203.50" stroke="#a9cd80" stroke-width="1"/>
<text transform="translate(205.40 351.05) scale(0.770 1)" font-family='"Liberation Sans", Arial, sans-serif' font-size="6.90" font-weight="normal" text-anchor="start" fill="#303030" stroke="#303030" stroke-width="0.08">90%</text></g>
<g><path d="M284.80 448.90C284.97 447.42 285.52 443.90 285.80 440.00C286.08 436.10 286.20 431.92 286.50 425.50C286.80 419.08 287.27 403.42 287.60 401.50C287.93 399.58 288.18 409.77 288.50 414.00C288.82 418.23 289.10 427.42 289.50 426.90C289.90 426.38 290.42 415.98 290.90 410.90C291.38 405.82 291.98 397.72 292.40 396.40C292.82 395.08 293.08 400.82 293.40 403.00C293.72 405.18 293.92 410.37 294.30 409.50C294.68 408.63 295.22 401.68 295.70 397.80C296.18 393.92 296.72 387.05 297.20 386.20C297.68 385.35 298.07 393.18 298.60 392.70C299.13 392.22 299.87 386.57 300.40 383.30C300.93 380.03 301.37 374.20 301.80 373.10C302.23 372.00 302.63 377.43 303.00 376.70C303.37 375.97 303.77 371.75 304.00 368.70C304.23 365.65 304.15 361.33 304.40 358.40C304.65 355.47 305.15 351.47 305.50 351.10C305.85 350.73 306.15 356.45 306.50 356.20C306.85 355.95 307.17 351.67 307.60 349.60C308.03 347.53 308.48 345.73 309.10 343.80C309.72 341.87 310.33 339.93 311.30 338.00C312.27 336.07 313.57 333.90 314.90 332.20C316.23 330.50 317.97 328.82 319.30 327.80C320.63 326.78 321.93 326.10 322.90 326.10C323.87 326.10 323.77 328.12 325.10 327.80C326.43 327.48 328.72 325.28 330.90 324.20C333.08 323.12 336.27 321.95 338.20 321.30C340.13 320.65 341.53 320.30 342.50 320.30C343.47 320.30 343.40 321.85 344.00 321.30C344.60 320.75 344.73 318.48 346.10 317.00C347.47 315.52 349.67 313.67 352.20 312.40C354.73 311.13 358.25 310.42 361.30 309.40C364.35 308.38 366.43 307.22 370.50 306.30C374.57 305.38 380.63 304.45 385.70 303.90C390.77 303.35 393.28 303.30 400.90 303.00C408.52 302.70 419.20 302.42 431.40 302.10C443.60 301.78 466.98 301.27 474.10 301.10" fill="none" stroke="#62a8e2" stroke-width="1" stroke-linejoin="round" stroke-linecap="butt"/>
<path d="M284.80 467.80C285.08 463.92 285.97 450.35 286.50 444.50C287.03 438.65 287.58 436.85 288.00 432.70C288.42 428.55 288.52 419.83 289.00 419.60C289.48 419.37 290.33 430.82 290.90 431.30C291.47 431.78 291.92 425.65 292.40 422.50C292.88 419.35 293.20 415.07 293.80 412.40C294.40 409.73 295.27 408.57 296.00 406.50C296.73 404.43 297.47 401.93 298.20 400.00C298.93 398.07 299.68 396.97 300.40 394.90C301.12 392.83 301.78 390.02 302.50 387.60C303.22 385.18 304.08 383.07 304.70 380.40C305.32 377.73 305.83 374.42 306.20 371.60C306.57 368.78 306.53 364.37 306.90 363.50C307.27 362.63 307.92 366.38 308.40 366.40C308.88 366.42 309.45 364.33 309.80 363.60C310.15 362.87 310.02 363.00 310.50 362.00C310.98 361.00 311.72 358.93 312.70 357.60C313.68 356.27 315.07 354.97 316.40 354.00C317.73 353.03 319.02 352.28 320.70 351.80C322.38 351.32 323.58 351.33 326.50 351.10C329.42 350.87 334.32 350.77 338.20 350.40C342.08 350.03 344.42 349.28 349.80 348.90C355.18 348.52 359.95 348.28 370.50 348.10C381.05 347.92 406.00 347.85 413.10 347.80" fill="none" stroke="#ea9673" stroke-width="1" stroke-linejoin="round" stroke-linecap="butt"/>
<path d="M284.80 470.70C285.08 467.55 285.97 457.37 286.50 451.80C287.03 446.23 287.63 440.45 288.00 437.30C288.37 434.15 288.38 432.42 288.70 432.90C289.02 433.38 289.53 438.50 289.90 440.20C290.27 441.90 290.48 443.58 290.90 443.10C291.32 442.62 292.02 439.32 292.40 437.30C292.78 435.28 292.97 432.62 293.20 431.00C293.43 429.38 293.38 428.77 293.80 427.60C294.22 426.43 295.08 426.05 295.70 424.00C296.32 421.95 297.02 417.48 297.50 415.30C297.98 413.12 298.12 411.87 298.60 410.90C299.08 409.93 299.75 410.47 300.40 409.50C301.05 408.53 301.78 407.05 302.50 405.10C303.22 403.15 304.02 400.47 304.70 397.80C305.38 395.13 306.12 391.52 306.60 389.10C307.08 386.68 307.18 384.15 307.60 383.30C308.02 382.45 308.48 384.25 309.10 384.00C309.72 383.75 310.57 382.77 311.30 381.80C312.03 380.83 312.65 379.28 313.50 378.20C314.35 377.12 315.20 376.03 316.40 375.30C317.60 374.57 319.02 374.12 320.70 373.80C322.38 373.48 323.58 373.57 326.50 373.40C329.42 373.23 333.42 373.12 338.20 372.80C342.98 372.48 344.90 371.77 355.20 371.50C365.50 371.23 385.88 371.25 400.00 371.20C414.12 371.15 433.25 371.20 439.90 371.20" fill="none" stroke="#f5cf74" stroke-width="1" stroke-linejoin="round" stroke-linecap="butt"/>
<path d="M284.80 473.60C285.22 471.18 286.60 463.70 287.30 459.10C288.00 454.50 288.52 448.30 289.00 446.00C289.48 443.70 289.77 445.05 290.20 445.30C290.63 445.55 291.00 447.63 291.60 447.50C292.20 447.37 293.12 446.20 293.80 444.50C294.48 442.80 295.13 439.27 295.70 437.30C296.27 435.33 296.55 434.32 297.20 432.70C297.85 431.08 298.72 429.30 299.60 427.60C300.48 425.90 301.52 424.32 302.50 422.50C303.48 420.68 304.65 419.12 305.50 416.70C306.35 414.28 307.00 410.78 307.60 408.00C308.20 405.22 308.62 401.98 309.10 400.00C309.58 398.02 309.90 396.47 310.50 396.10C311.10 395.73 311.85 397.03 312.70 397.80C313.55 398.57 314.63 400.82 315.60 400.70C316.57 400.58 317.52 398.30 318.50 397.10C319.48 395.90 320.40 394.35 321.50 393.50C322.60 392.65 323.53 392.62 325.10 392.00C326.67 391.38 328.72 390.28 330.90 389.80C333.08 389.32 333.63 389.35 338.20 389.10C342.77 388.85 344.67 388.48 358.30 388.30C371.93 388.12 402.13 388.05 420.00 388.00C437.87 387.95 457.92 388.00 465.50 388.00" fill="none" stroke="#b684c4" stroke-width="1" stroke-linejoin="round" stroke-linecap="butt"/>
<path d="M284.80 478.00C285.22 476.07 286.60 469.67 287.30 466.40C288.00 463.13 288.40 459.25 289.00 458.40C289.60 457.55 290.10 460.22 290.90 461.30C291.70 462.38 292.70 465.63 293.80 464.90C294.90 464.17 296.17 459.08 297.50 456.90C298.83 454.72 300.35 453.37 301.80 451.80C303.25 450.23 305.23 449.92 306.20 447.50C307.17 445.08 307.23 440.00 307.60 437.30C307.97 434.60 308.03 433.27 308.40 431.30C308.77 429.33 309.25 427.08 309.80 425.50C310.35 423.92 310.97 422.65 311.70 421.80C312.43 420.95 313.07 421.00 314.20 420.40C315.33 419.80 316.93 418.82 318.50 418.20C320.07 417.58 321.90 417.32 323.60 416.70C325.30 416.08 327.00 415.35 328.70 414.50C330.40 413.65 331.73 412.27 333.80 411.60C335.87 410.93 338.43 410.73 341.10 410.50C343.77 410.27 339.98 410.30 349.80 410.20C359.62 410.10 381.07 409.95 400.00 409.90C418.93 409.85 452.83 409.90 463.40 409.90" fill="none" stroke="#a9cd80" stroke-width="1" stroke-linejoin="round" stroke-linecap="butt"/>
<rect x="284.50" y="296.60" width="193.90" height="203.70" fill="none" stroke="#858585" stroke-width="1"/>
<text transform="translate(284.50 512.50) scale(0.720 1)" font-family='"Liberation Sans", Arial, sans-serif' font-size="8.40" font-weight="normal" text-anchor="middle" fill="#303030" stroke="#303030" stroke-width="0.15">0</text>
<text transform="translate(316.82 512.50) scale(0.720 1)" font-family='"Liberation Sans", Arial, sans-serif' font-size="8.40" font-weight="normal" text-anchor="middle" fill="#303030" stroke="#303030" stroke-width="0.15">5</text>
<text transform="translate(349.13 512.50) scale(0.720 1)" font-family='"Liberation Sans", Arial, sans-serif' font-size="8.40" font-weight="normal" text-anchor="middle" fill="#303030" stroke="#303030" stroke-width="0.15">10</text>
<text transform="translate(381.45 512.50) scale(0.720 1)" font-family='"Liberation Sans", Arial, sans-serif' font-size="8.40" font-weight="normal" text-anchor="middle" fill="#303030" stroke="#303030" stroke-width="0.15">15</text>
<text transform="translate(413.77 512.50) scale(0.720 1)" font-family='"Liberation Sans", Arial, sans-serif' font-size="8.40" font-weight="normal" text-anchor="middle" fill="#303030" stroke="#303030" stroke-width="0.15">20</text>
<text transform="translate(446.08 512.50) scale(0.720 1)" font-family='"Liberation Sans", Arial, sans-serif' font-size="8.40" font-weight="normal" text-anchor="middle" fill="#303030" stroke="#303030" stroke-width="0.15">25</text>
<text transform="translate(478.40 512.50) scale(0.720 1)" font-family='"Liberation Sans", Arial, sans-serif' font-size="8.40" font-weight="normal" text-anchor="middle" fill="#303030" stroke="#303030" stroke-width="0.15">30</text>
<text transform="translate(282.00 503.40) scale(0.720 1)" font-family='"Liberation Sans", Arial, sans-serif' font-size="8.40" font-weight="normal" text-anchor="end" fill="#303030" stroke="#303030" stroke-width="0.15">0</text>
<text transform="translate(282.00 469.45) scale(0.720 1)" font-family='"Liberation Sans", Arial, sans-serif' font-size="8.40" font-weight="normal" text-anchor="end" fill="#303030" stroke="#303030" stroke-width="0.15">10</text>
<text transform="translate(282.00 435.50) scale(0.720 1)" font-family='"Liberation Sans", Arial, sans-serif' font-size="8.40" font-weight="normal" text-anchor="end" fill="#303030" stroke="#303030" stroke-width="0.15">20</text>
<text transform="translate(282.00 401.55) scale(0.720 1)" font-family='"Liberation Sans", Arial, sans-serif' font-size="8.40" font-weight="normal" text-anchor="end" fill="#303030" stroke="#303030" stroke-width="0.15">30</text>
<text transform="translate(282.00 367.60) scale(0.720 1)" font-family='"Liberation Sans", Arial, sans-serif' font-size="8.40" font-weight="normal" text-anchor="end" fill="#303030" stroke="#303030" stroke-width="0.15">40</text>
<text transform="translate(282.00 333.65) scale(0.720 1)" font-family='"Liberation Sans", Arial, sans-serif' font-size="8.40" font-weight="normal" text-anchor="end" fill="#303030" stroke="#303030" stroke-width="0.15">50</text>
<text transform="translate(282.00 299.70) scale(0.720 1)" font-family='"Liberation Sans", Arial, sans-serif' font-size="8.40" font-weight="normal" text-anchor="end" fill="#303030" stroke="#303030" stroke-width="0.15">60</text>
<path d="M284.50 500.30v-2.50M284.50 296.60v2.50M316.82 500.30v-2.50M316.82 296.60v2.50M349.13 500.30v-2.50M349.13 296.60v2.50M381.45 500.30v-2.50M381.45 296.60v2.50M413.77 500.30v-2.50M413.77 296.60v2.50M446.08 500.30v-2.50M446.08 296.60v2.50M478.40 500.30v-2.50M478.40 296.60v2.50M284.50 500.30h2.50M478.40 500.30h-2.50M284.50 466.35h2.50M478.40 466.35h-2.50M284.50 432.40h2.50M478.40 432.40h-2.50M284.50 398.45h2.50M478.40 398.45h-2.50M284.50 364.50h2.50M478.40 364.50h-2.50M284.50 330.55h2.50M478.40 330.55h-2.50M284.50 296.60h2.50M478.40 296.60h-2.50" stroke="#858585" stroke-width="0.9" fill="none"/>
<text transform="translate(381.45 523.70) scale(0.770 1)" font-family='"Liberation Sans", Arial, sans-serif' font-size="8.80" font-weight="normal" text-anchor="middle" fill="#303030" stroke="#303030" stroke-width="0.15">Time</text>
<text transform="translate(272.30 398.45) scale(0.770 1) rotate(-90)" font-family='"Liberation Sans", Arial, sans-serif' font-size="9.00" font-weight="normal" text-anchor="middle" fill="#303030" stroke="#303030" stroke-width="0.15">PSNR</text>
<text transform="translate(375.45 542.30) scale(1.000 1)" font-family='"Liberation Serif", "Times New Roman", serif' font-size="9.30" font-weight="bold" text-anchor="middle" fill="#111" stroke="#111" stroke-width="0.10">(d)</text>
<rect x="439.60" y="311.90" width="33.90" height="51.00" fill="#fff" stroke="#8c8c8c" stroke-width="1"/>
<path d="M441.60 317.50H458.90" stroke="#62a8e2" stroke-width="1"/>
<text transform="translate(460.80 319.95) scale(0.770 1)" font-family='"Liberation Sans", Arial, sans-serif' font-size="6.90" font-weight="normal" text-anchor="start" fill="#303030" stroke="#303030" stroke-width="0.08">10%</text>
<path d="M441.60 327.40H458.90" stroke="#ea9673" stroke-width="1"/>
<text transform="translate(460.80 329.85) scale(0.770 1)" font-family='"Liberation Sans", Arial, sans-serif' font-size="6.90" font-weight="normal" text-anchor="start" fill="#303030" stroke="#303030" stroke-width="0.08">30%</text>
<path d="M441.60 337.50H458.90" stroke="#f5cf74" stroke-width="1"/>
<text transform="translate(460.80 339.95) scale(0.770 1)" font-family='"Liberation Sans", Arial, sans-serif' font-size="6.90" font-weight="normal" text-anchor="start" fill="#303030" stroke="#303030" stroke-width="0.08">50%</text>
<path d="M441.60 347.50H458.90" stroke="#b684c4" stroke-width="1"/>
<text transform="translate(460.80 349.95) scale(0.770 1)" font-family='"Liberation Sans", Arial, sans-serif' font-size="6.90" font-weight="normal" text-anchor="start" fill="#303030" stroke="#303030" stroke-width="0.08">70%</text>
<path d="M441.60 357.60H458.90" stroke="#a9cd80" stroke-width="1"/>
<text transform="translate(460.80 360.05) scale(0.770 1)" font-family='"Liberation Sans", Arial, sans-serif' font-size="6.90" font-weight="normal" text-anchor="start" fill="#303030" stroke="#303030" stroke-width="0.08">90%</text></g>
</svg>
</body>
</html>
